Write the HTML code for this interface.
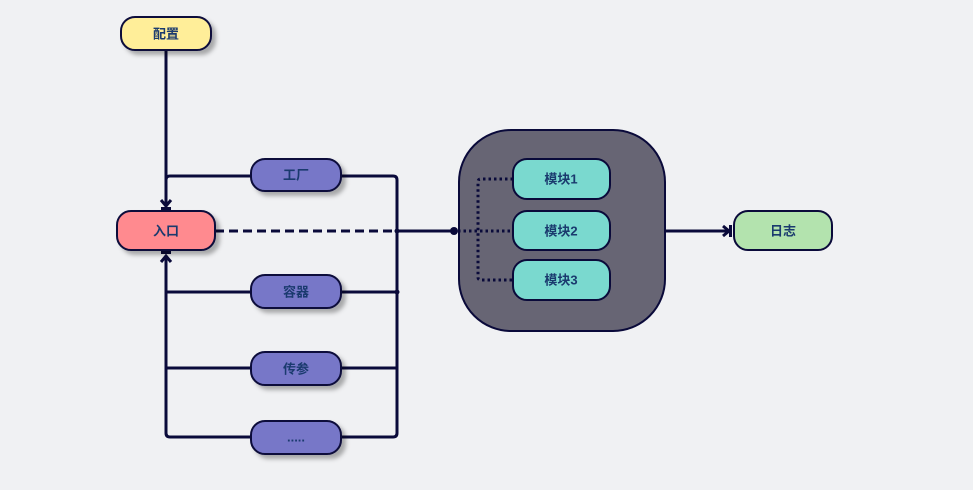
<!DOCTYPE html>
<html><head><meta charset="utf-8"><style>
html,body{margin:0;padding:0;background:#f0f1f3;}
svg{display:block}
text{font-family:"Liberation Sans","Noto Sans CJK SC",sans-serif;font-size:13px;font-weight:bold;fill:#1a3a6e;text-anchor:middle;dominant-baseline:central}
</style></head><body>
<svg width="973" height="490" viewBox="0 0 973 490" xmlns="http://www.w3.org/2000/svg">
<defs>
<filter id="sh" x="-20%" y="-20%" width="150%" height="160%">
<feDropShadow dx="4" dy="4" stdDeviation="2" flood-color="#000" flood-opacity="0.3"/>
</filter>
</defs>
<g fill="none" stroke="#0a0a3a" stroke-width="3">
<path d="M166 50 V205"/>
<path d="M251 176 H170 Q166 176 166 180"/>
<path d="M166 256 V433 Q166 437 170 437 H251"/>
<path d="M166 368 H251"/>
<path d="M166 292 H251"/>
<path d="M341 176 H393 Q397 176 397 180 V433 Q397 437 393 437 H341"/>
<path d="M341 292 H397 M341 368 H397"/>
<path d="M215 231 H397" stroke-dasharray="9 5"/>
<path d="M397 231 H454"/>
<path d="M665 231 H728"/>
</g>
<g fill="none" stroke="#0a0a3a" stroke-width="3">
<path d="M161 200 L166 206 L171 200"/>
<path d="M161 262 L166 256 L171 262"/>
<path d="M723 226 L729 231 L723 236"/>
</g>
<rect x="161" y="207" width="10" height="3" fill="#0a0a3a"/>
<rect x="161" y="251" width="10" height="3" fill="#0a0a3a"/>
<rect x="729" y="225" width="3" height="12" fill="#0a0a3a"/>
<circle cx="397" cy="292" r="2.5" fill="#0a0a3a"/>
<circle cx="397" cy="231" r="2.5" fill="#0a0a3a"/>

<rect x="459" y="130" width="206" height="201" rx="52" fill="#676574" stroke="#0a0a3a" stroke-width="2"/>
<circle cx="454" cy="231" r="4" fill="#0a0a3a"/>
<g fill="none" stroke="#0a0a3a" stroke-width="3" stroke-dasharray="2.5 3">
<path d="M458 231 H513"/>
<path d="M513 179 H481 Q478 179 478 182 V277 Q478 280 481 280 H513"/>
</g>

<g stroke="#0a0a3a" stroke-width="2">
<rect x="121" y="17" width="90" height="33" rx="14" fill="#ffee99" filter="url(#sh)"/>
<rect x="117" y="211" width="98" height="39" rx="14" fill="#ff8a8f" filter="url(#sh)"/>
<rect x="251" y="159" width="90" height="32" rx="14" fill="#7777c8" filter="url(#sh)"/>
<rect x="251" y="275" width="90" height="33" rx="14" fill="#7777c8" filter="url(#sh)"/>
<rect x="251" y="352" width="90" height="33" rx="14" fill="#7777c8" filter="url(#sh)"/>
<rect x="251" y="421" width="90" height="33" rx="14" fill="#7777c8" filter="url(#sh)"/>
<rect x="513" y="159" width="97" height="40" rx="14" fill="#7ad9cf"/>
<rect x="513" y="211" width="97" height="39" rx="14" fill="#7ad9cf"/>
<rect x="513" y="260" width="97" height="40" rx="14" fill="#7ad9cf"/>
<rect x="734" y="211" width="98" height="39" rx="14" fill="#b3e3ae"/>
</g>
<text x="166" y="34">配置</text>
<text x="166" y="231">入口</text>
<text x="296" y="175">工厂</text>
<text x="296" y="292">容器</text>
<text x="296" y="369">传参</text>
<text x="296" y="437">.....</text>
<text x="561" y="179">模块1</text>
<text x="561" y="231">模块2</text>
<text x="561" y="280">模块3</text>
<text x="783" y="231">日志</text>
</svg>
</body></html>
